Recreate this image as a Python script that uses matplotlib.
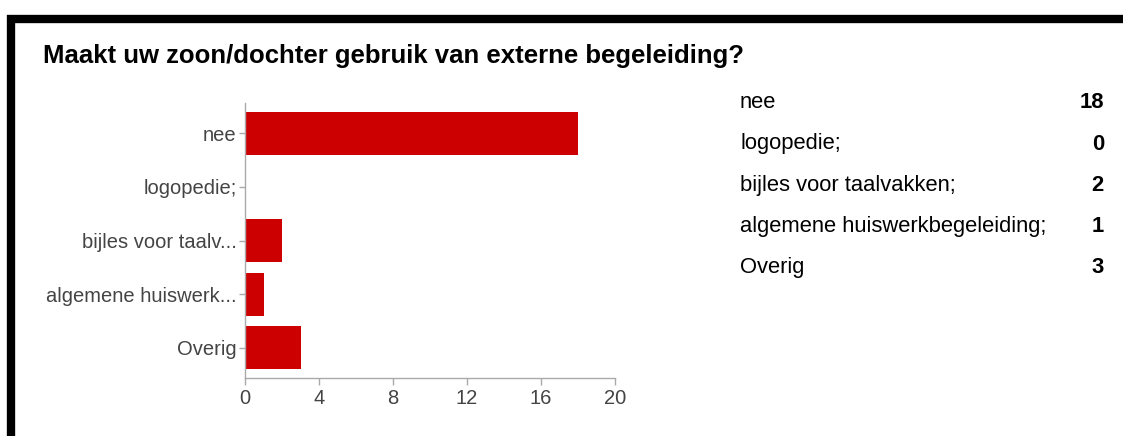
import matplotlib
matplotlib.use("Agg")
import matplotlib.pyplot as plt
from matplotlib.lines import Line2D

plt.rcParams['font.family'] = ['Liberation Sans', 'DejaVu Sans']

title = "Maakt uw zoon/dochter gebruik van externe begeleiding?"
categories = ["nee", "logopedie;", "bijles voor taalv...", "algemene huiswerk...", "Overig"]
full_labels = ["nee", "logopedie;", "bijles voor taalvakken;", "algemene huiswerkbegeleiding;", "Overig"]
values = [18, 0, 2, 1, 3]
xticks = [0, 4, 8, 12, 16, 20]

W, H = 1123, 436
fig = plt.figure(figsize=(W / 100, H / 100), dpi=100)
fig.patch.set_facecolor('white')

# black frame
fig.add_artist(Line2D([11 / W, 11 / W], [0, 1 - 15 / H], color='black', lw=6, solid_capstyle='butt'))
fig.add_artist(Line2D([7 / W, 1], [1 - 19 / H, 1 - 19 / H], color='black', lw=6, solid_capstyle='butt'))

fig.text(43 / W, 1 - 56 / H, title, fontsize=18.5, fontweight='bold', color='black', va='center', ha='left')

ax = fig.add_axes([245 / W, 1 - 378 / H, 370 / W, 275 / H])
ypos = list(range(len(categories)))
ax.barh(ypos, values, height=0.8, color='#cc0000', linewidth=0)
ax.set_ylim(len(categories) - 0.5 + 0.06, -0.5 - 0.06)
ax.set_xlim(0, 20)
ax.set_xticks(xticks)
ax.set_xticklabels([str(t) for t in xticks])
ax.set_yticks(ypos)
ax.set_yticklabels(categories)
for s in ['top', 'right']:
    ax.spines[s].set_visible(False)
for s in ['left', 'bottom']:
    ax.spines[s].set_color('#aaaaaa')
    ax.spines[s].set_linewidth(1)
ax.tick_params(axis='both', colors='#aaaaaa', labelcolor='#444444', labelsize=14.5, length=5, width=1)
ax.tick_params(axis='x', pad=3)
ax.tick_params(axis='y', pad=2, length=4)

ys = [103, 144, 185, 226, 267]
for lab, v, y in zip(full_labels, values, ys):
    fig.text(740 / W, 1 - y / H, lab, fontsize=15.8, color='black', va='center', ha='left')
    fig.text(1104 / W, 1 - y / H, str(v), fontsize=15.8, fontweight='bold', color='black', va='center', ha='right')

fig.savefig('out.png', dpi=100, facecolor='white')
